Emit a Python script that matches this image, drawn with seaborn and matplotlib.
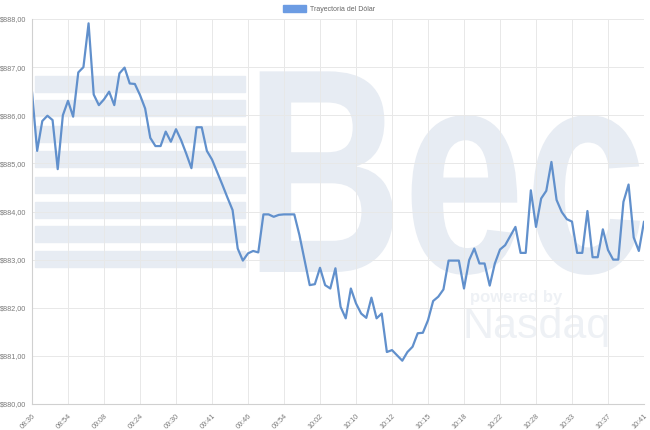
import matplotlib
matplotlib.use('Agg')
import matplotlib.pyplot as plt
from matplotlib.patches import Patch, Rectangle, PathPatch
from matplotlib.textpath import TextPath
from matplotlib.font_manager import FontProperties
from matplotlib.path import Path
import seaborn as sns
import numpy as np
import pandas as pd

# Precio del dolar, un punto por transaccion
precios = [886.49, 885.26, 885.88, 885.99, 885.90, 884.88, 886.00, 886.30, 885.97, 886.89,
           887.00, 887.91, 886.43, 886.21, 886.33, 886.49, 886.21, 886.87, 886.99, 886.66,
           886.65, 886.42, 886.14, 885.53, 885.36, 885.36, 885.66, 885.45, 885.71, 885.48,
           885.20, 884.90, 885.75, 885.75, 885.26, 885.08, 884.82, 884.56, 884.29, 884.03,
           883.23, 882.98, 883.13, 883.18, 883.15, 883.94, 883.94, 883.89, 883.93, 883.94,
           883.94, 883.94, 883.51, 882.99, 882.47, 882.49, 882.83, 882.47, 882.40, 882.82,
           882.02, 881.78, 882.40, 882.09, 881.88, 881.79, 882.21, 881.78, 881.88, 881.08,
           881.12, 881.01, 880.90, 881.08, 881.19, 881.47, 881.48, 881.74, 882.14, 882.23,
           882.38, 882.98, 882.98, 882.98, 882.40, 882.99, 883.23, 882.92, 882.92, 882.46,
           882.92, 883.21, 883.30, 883.49, 883.68, 883.14, 883.14, 884.44, 883.68, 884.27,
           884.43, 885.03, 884.24, 883.99, 883.84, 883.79, 883.14, 883.14, 884.01, 883.05,
           883.05, 883.63, 883.20, 883.00, 883.00, 884.20, 884.56, 883.46, 883.18, 883.79]

horas = ['08:36', '08:54', '09:08', '09:24', '09:30', '09:41', '09:46', '09:54', '10:02',
         '10:10', '10:12', '10:15', '10:18', '10:22', '10:28', '10:33', '10:37', '10:41']

y_ticks = [880, 881, 882, 883, 884, 885, 886, 887, 888]

df = pd.DataFrame({'punto': np.arange(len(precios)), 'precio': precios})

sns.set_theme(style='white')
plt.rcParams['font.family'] = ['Liberation Sans', 'DejaVu Sans']

W, H = 650, 430
fig = plt.figure(figsize=(6.5, 4.3), dpi=100)
ax = fig.add_axes([32 / W, 1 - 404 / H, 612 / W, 385 / H])
ax.patch.set_alpha(0)

# marca de agua de fondo
wm = '#e7ecf3'
for top in [76, 100, 126, 151, 177, 202, 226, 251]:
    fig.patches.append(Rectangle((35 / W, 1 - (top + 16) / H), 210 / W, 16 / H,
                                 transform=fig.transFigure, color=wm, zorder=-2))

# "Bec" estirado para ocupar la misma caja que en la imagen
tp = TextPath((0, 0), 'Bec', size=100, prop=FontProperties(family='Liberation Sans', weight='bold'))
v = tp.vertices.copy()
x0, x1 = v[:, 0].min(), v[:, 0].max()
cap = 72.0  # altura de mayuscula aprox. para size=100
v[:, 0] = (245 + (v[:, 0] - x0) / (x1 - x0) * 395) / W
v[:, 1] = 1 - (272 - v[:, 1] / cap * 210) / H
fig.patches.append(PathPatch(Path(v, tp.codes), transform=fig.transFigure,
                             facecolor=wm, edgecolor='none', zorder=-2))

fig.text(470 / W, 1 - 302 / H, 'powered by', fontsize=12, fontweight='bold',
         color='#eef1f5', zorder=-2, va='baseline')
fig.text(462 / W, 1 - 338 / H, 'Nasdaq', fontsize=31,
         color='#eef1f5', zorder=-2, va='baseline')

sns.lineplot(data=df, x='punto', y='precio', ax=ax, color='#6190cc', linewidth=1.6)

ax.set_xlim(0, len(precios) - 1)
ax.set_ylim(880, 888)
ax.set_xticks(np.arange(len(horas)) * 7)
ax.set_xticklabels(horas, rotation=45, ha='right', va='top', rotation_mode='anchor')
ax.set_yticks(y_ticks)
ax.set_yticklabels(['${:.2f}'.format(t).replace('.', ',') for t in y_ticks])
ax.tick_params(axis='both', labelsize=5.2, colors='#7a7a7a', length=3, width=0.6, pad=1)
ax.tick_params(axis='x', pad=3)
ax.set_xlabel('')
ax.set_ylabel('')
ax.grid(True, color='#e8e8e8', linewidth=0.7)
for s in ['top', 'right']:
    ax.spines[s].set_visible(False)
for s in ['left', 'bottom']:
    ax.spines[s].set_color('#d0d0d0')
    ax.spines[s].set_linewidth(0.8)

fig.legend(handles=[Patch(facecolor='#6c9ce3', edgecolor='#6c9ce3')],
           labels=['Trayectoria del Dólar'], loc='center', bbox_to_anchor=(0.506, 0.979),
           frameon=False, fontsize=5, handlelength=3.3, handleheight=1.1,
           handletextpad=0.6, labelcolor='#666666')

fig.savefig('out.png', dpi=100)
